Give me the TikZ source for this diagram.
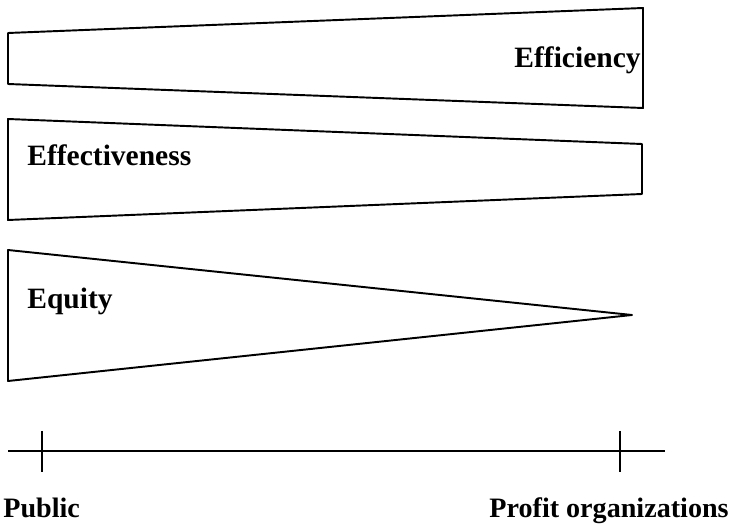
\documentclass[tikz,border=0pt]{standalone}
\usepackage{fontspec}
\setmainfont{Liberation Serif}
\usepackage{tikz}
\usetikzlibrary{positioning}
\tikzstyle{wedge} = [
    draw=black,
    line width=1.1pt,
    line join=round
]
\tikzstyle{axis} = [
    draw=black,
    line width=1.1pt
]
\tikzstyle{label} = [
    inner sep=0pt,
    font=\fontsize{16.8}{19}\selectfont\bfseries
]
\tikzstyle{end label} = [
    inner sep=0pt,
    font=\fontsize{16}{19}\selectfont\bfseries
]

\begin{document}
\begin{tikzpicture}
            \useasboundingbox (0,0) rectangle (14.68,10.5);
            % wedges
            \draw[wedge] (0.16,9.84) -- (0.16,8.82) -- (12.86,8.34) -- (12.86,10.34) -- cycle;
            \draw[wedge] (0.16,8.12) -- (0.16,6.10) -- (12.84,6.62) -- (12.84,7.62) -- cycle;
            \draw[wedge] (0.16,5.5) -- (0.16,2.88) -- (12.64,4.2) -- cycle;
            \node[label, anchor=base east] (efficiency) at (12.82,9.14) {Efficiency};
            \node[label, anchor=base west] (effectiveness) at (0.54,7.18) {Effectiveness};
            \node[label, anchor=base west] (equity) at (0.54,4.32) {Equity};
            % axis
            \coordinate (axisL) at (0.16,1.48);
            \coordinate (axisR) at (13.3,1.48);
            \draw[axis] (axisL) -- (axisR);
            \foreach \x/\n in {0.84/pub, 12.4/prof} {
                \coordinate (\n) at (\x,1.48);
                \draw[axis] ([yshift=0.4cm]\n) -- ([yshift=-0.42cm]\n);
            }
            \node[end label, anchor=base west] (public) at (0.06,0.15) {Public};
            \node[end label, anchor=base east] (profit) at (14.58,0.15) {Profit organizations};
        \end{tikzpicture}
\end{document}
